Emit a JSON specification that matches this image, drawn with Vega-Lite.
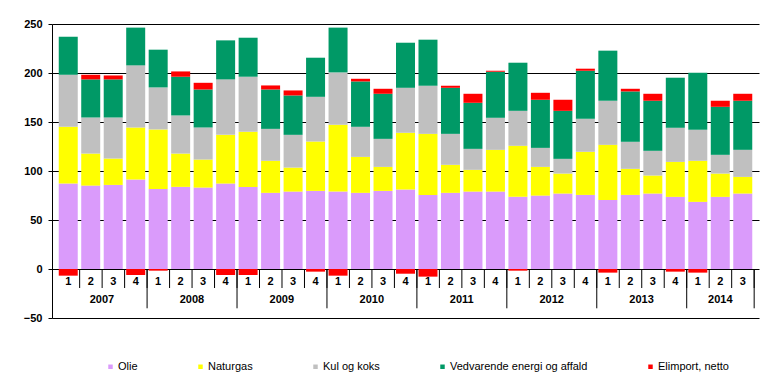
{
  "$schema": "https://vega.github.io/schema/vega-lite/v6.json",
  "width": 707,
  "height": 294,
  "autosize": {"type": "none"},
  "padding": {"left": 52, "top": 24, "right": 14, "bottom": 71},
  "config": {
    "view": {"stroke": null},
    "font": "Liberation Sans"
  },
  "data": {
    "values": [
      {"year": "2007", "q": "1", "Olie": 87.2, "Naturgas": 57.9, "Kul og koks": 53.1, "Vedvarende energi og affald": 38.8, "Elimport, netto": -6.8},
      {"year": "2007", "q": "2", "Olie": 85.1, "Naturgas": 32.7, "Kul og koks": 36.8, "Vedvarende energi og affald": 38.9, "Elimport, netto": 4.7},
      {"year": "2007", "q": "3", "Olie": 85.8, "Naturgas": 26.9, "Kul og koks": 41.9, "Vedvarende energi og affald": 38.9, "Elimport, netto": 4.0},
      {"year": "2007", "q": "4", "Olie": 91.3, "Naturgas": 53.1, "Kul og koks": 63.4, "Vedvarende energi og affald": 38.5, "Elimport, netto": -6.1},
      {"year": "2008", "q": "1", "Olie": 81.7, "Naturgas": 60.7, "Kul og koks": 42.9, "Vedvarende energi og affald": 38.5, "Elimport, netto": -1.7},
      {"year": "2008", "q": "2", "Olie": 83.8, "Naturgas": 34.0, "Kul og koks": 38.9, "Vedvarende energi og affald": 39.5, "Elimport, netto": 5.4},
      {"year": "2008", "q": "3", "Olie": 83.1, "Naturgas": 28.6, "Kul og koks": 32.7, "Vedvarende energi og affald": 38.8, "Elimport, netto": 6.8},
      {"year": "2008", "q": "4", "Olie": 87.2, "Naturgas": 49.7, "Kul og koks": 56.6, "Vedvarende energi og affald": 39.8, "Elimport, netto": -6.1},
      {"year": "2009", "q": "1", "Olie": 83.8, "Naturgas": 56.2, "Kul og koks": 56.2, "Vedvarende energi og affald": 39.8, "Elimport, netto": -6.1},
      {"year": "2009", "q": "2", "Olie": 77.7, "Naturgas": 32.7, "Kul og koks": 32.6, "Vedvarende energi og affald": 40.2, "Elimport, netto": 4.1},
      {"year": "2009", "q": "3", "Olie": 79.0, "Naturgas": 24.5, "Kul og koks": 33.4, "Vedvarende energi og affald": 40.2, "Elimport, netto": 5.1},
      {"year": "2009", "q": "4", "Olie": 79.7, "Naturgas": 50.4, "Kul og koks": 45.6, "Vedvarende energi og affald": 39.9, "Elimport, netto": -2.7},
      {"year": "2010", "q": "1", "Olie": 79.0, "Naturgas": 68.1, "Kul og koks": 53.5, "Vedvarende energi og affald": 45.7, "Elimport, netto": -6.8},
      {"year": "2010", "q": "2", "Olie": 77.7, "Naturgas": 36.7, "Kul og koks": 30.7, "Vedvarende energi og affald": 46.3, "Elimport, netto": 2.7},
      {"year": "2010", "q": "3", "Olie": 79.7, "Naturgas": 24.5, "Kul og koks": 28.6, "Vedvarende energi og affald": 46.0, "Elimport, netto": 5.1},
      {"year": "2010", "q": "4", "Olie": 81.1, "Naturgas": 57.9, "Kul og koks": 45.9, "Vedvarende energi og affald": 46.0, "Elimport, netto": -4.8},
      {"year": "2011", "q": "1", "Olie": 75.6, "Naturgas": 62.3, "Kul og koks": 49.1, "Vedvarende energi og affald": 47.0, "Elimport, netto": -7.8},
      {"year": "2011", "q": "2", "Olie": 77.7, "Naturgas": 28.6, "Kul og koks": 31.6, "Vedvarende energi og affald": 47.0, "Elimport, netto": 2.1},
      {"year": "2011", "q": "3", "Olie": 79.0, "Naturgas": 22.2, "Kul og koks": 21.4, "Vedvarende energi og affald": 47.0, "Elimport, netto": 9.2},
      {"year": "2011", "q": "4", "Olie": 79.0, "Naturgas": 42.6, "Kul og koks": 32.7, "Vedvarende energi og affald": 47.0, "Elimport, netto": 1.0},
      {"year": "2012", "q": "1", "Olie": 73.6, "Naturgas": 52.1, "Kul og koks": 35.7, "Vedvarende energi og affald": 49.1, "Elimport, netto": -1.7},
      {"year": "2012", "q": "2", "Olie": 74.9, "Naturgas": 29.3, "Kul og koks": 19.4, "Vedvarende energi og affald": 49.1, "Elimport, netto": 7.1},
      {"year": "2012", "q": "3", "Olie": 77.0, "Naturgas": 20.4, "Kul og koks": 15.0, "Vedvarende energi og affald": 49.0, "Elimport, netto": 11.3},
      {"year": "2012", "q": "4", "Olie": 75.6, "Naturgas": 44.0, "Kul og koks": 33.7, "Vedvarende energi og affald": 49.0, "Elimport, netto": 2.1},
      {"year": "2013", "q": "1", "Olie": 70.5, "Naturgas": 56.2, "Kul og koks": 45.0, "Vedvarende energi og affald": 51.1, "Elimport, netto": -3.7},
      {"year": "2013", "q": "2", "Olie": 75.6, "Naturgas": 26.6, "Kul og koks": 27.6, "Vedvarende energi og affald": 51.4, "Elimport, netto": 2.7},
      {"year": "2013", "q": "3", "Olie": 77.0, "Naturgas": 18.4, "Kul og koks": 25.2, "Vedvarende energi og affald": 51.1, "Elimport, netto": 7.1},
      {"year": "2013", "q": "4", "Olie": 73.6, "Naturgas": 35.7, "Kul og koks": 34.8, "Vedvarende energi og affald": 51.1, "Elimport, netto": -2.7},
      {"year": "2014", "q": "1", "Olie": 68.5, "Naturgas": 41.9, "Kul og koks": 31.6, "Vedvarende energi og affald": 58.3, "Elimport, netto": -3.7},
      {"year": "2014", "q": "2", "Olie": 73.6, "Naturgas": 23.8, "Kul og koks": 19.1, "Vedvarende energi og affald": 49.0, "Elimport, netto": 6.2},
      {"year": "2014", "q": "3", "Olie": 77.0, "Naturgas": 17.0, "Kul og koks": 27.6, "Vedvarende energi og affald": 50.1, "Elimport, netto": 7.1}
    ]
  },
  "transform": [
    {"window": [{"op": "row_number", "as": "idx"}]}
  ],
  "layer": [
    {
      "transform": [
        {"fold": ["Olie", "Naturgas", "Kul og koks", "Vedvarende energi og affald", "Elimport, netto"], "as": ["serie", "value"]},
        {"window": [{"op": "row_number", "as": "k"}], "groupby": ["idx"]}
      ],
      "mark": {"type": "bar", "width": 19},
      "encoding": {
        "x": {"field": "idx", "type": "quantitative", "scale": {"domain": [0.5, 31.5], "nice": false, "zero": false}, "axis": null},
        "y": {
          "field": "value", "type": "quantitative", "stack": "zero",
          "scale": {"domain": [-50, 250], "nice": false},
          "axis": {
            "title": null, "values": [-50, 0, 50, 100, 150, 200, 250],
            "grid": true, "gridColor": "black", "gridOpacity": 1, "gridWidth": 1,
            "domainColor": "black", "domainWidth": 1, "tickColor": "black", "tickSize": 4,
            "labelFontWeight": "bold", "labelFontSize": 11, "labelColor": "black", "labelPadding": 6,
            "labelFont": "Liberation Sans"
          }
        },
        "color": {
          "field": "serie", "type": "nominal",
          "sort": ["Olie", "Naturgas", "Kul og koks", "Vedvarende energi og affald", "Elimport, netto"],
          "scale": {
            "domain": ["Olie", "Naturgas", "Kul og koks", "Vedvarende energi og affald", "Elimport, netto"],
            "range": ["#DA9BFB", "#FFFF00", "#C0C0C0", "#009966", "#FF0000"]
          },
          "legend": {
            "title": null, "orient": "none", "legendX": 53, "legendY": 337,
            "direction": "horizontal", "columns": 5, "columnPadding": 57,
            "symbolType": "square", "symbolSize": 20, "symbolStrokeWidth": 0,
            "labelFontSize": 11, "labelColor": "black", "labelFont": "Liberation Sans", "labelOffset": 2,
            "labelLimit": 300
          }
        },
        "order": {"field": "k", "type": "quantitative", "sort": "ascending"}
      }
    },
    {
      "mark": {"type": "text", "fontWeight": "bold", "fontSize": 11, "font": "Liberation Sans", "color": "black", "baseline": "middle"},
      "encoding": {
        "x": {"field": "idx", "type": "quantitative"},
        "y": {"datum": -13.3},
        "text": {"field": "q"}
      }
    },
    {
      "mark": {"type": "rule", "color": "black", "strokeWidth": 1, "xOffset": 11.4},
      "encoding": {
        "x": {"field": "idx", "type": "quantitative"},
        "y": {"datum": 0},
        "y2": {"datum": -19.4}
      }
    },
    {
      "transform": [
        {"aggregate": [{"op": "mean", "field": "idx", "as": "mid"}, {"op": "max", "field": "idx", "as": "last"}], "groupby": ["year"]}
      ],
      "layer": [
        {
          "mark": {"type": "text", "fontWeight": "bold", "fontSize": 11, "font": "Liberation Sans", "color": "black", "baseline": "middle"},
          "encoding": {
            "x": {"field": "mid", "type": "quantitative"},
            "y": {"datum": -32.1},
            "text": {"field": "year"}
          }
        },
        {
          "mark": {"type": "rule", "color": "black", "strokeWidth": 1, "xOffset": 11.4},
          "encoding": {
            "x": {"field": "last", "type": "quantitative"},
            "y": {"datum": 0},
            "y2": {"datum": -40.1}
          }
        }
      ]
    }
  ]
}
